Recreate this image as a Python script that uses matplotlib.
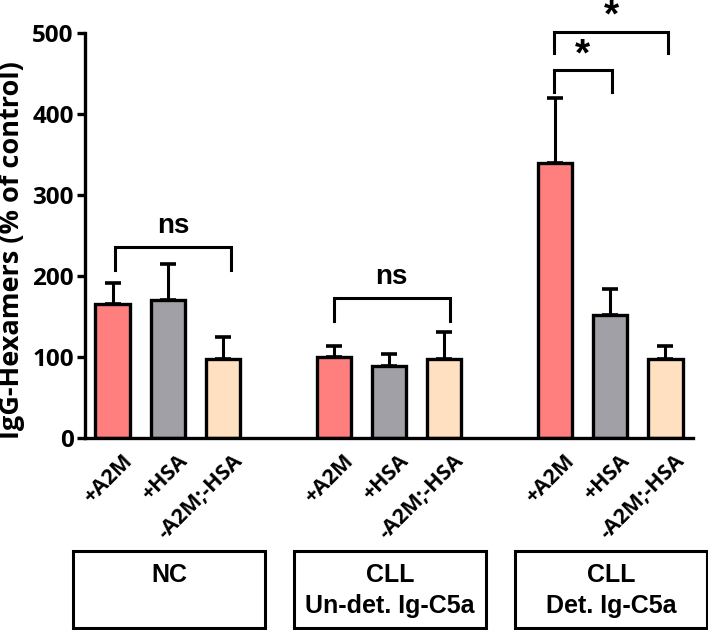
import matplotlib
matplotlib.use("Agg")
import matplotlib.pyplot as plt
from matplotlib.patches import Rectangle
import matplotlib.transforms as mtransforms

# data
positions = [0, 1, 2, 4, 5, 6, 8, 9, 10]
labels = ["+A2M", "+HSA", "-A2M;-HSA"] * 3
means = [165, 170, 98, 100, 89, 98, 340, 152, 98]
errs = [26, 45, 27, 13, 15, 33, 80, 32, 16]
colours = ["#FF7F7F", "#A0A0A6", "#FFE0C0"] * 3

group_line1 = ["NC", "CLL", "CLL"]
group_line2 = ["", "Un-det. Ig-C5a", "Det. Ig-C5a"]
group_centres = [1, 5, 9]

# brackets: (x left, x right, y top, y leg end, text, text y)
brackets = [
    (0.05, 2.15, 236, 207, "ns", 262),
    (4.0, 6.1, 173, 144, "ns", 199),
    (7.98, 9.03, 454, 427, "*", 472),
    (7.98, 10.05, 501, 475, "*", 520),
]

plt.rcParams['font.family'] = ['Open Sans', 'DejaVu Sans']
plt.rcParams['font.weight'] = 'bold'

fig = plt.figure(figsize=(7.08, 6.30), dpi=100)
ax = fig.add_axes([0.12, 0.3048, 0.859, 0.6428])

ax.bar(positions, means, width=0.62, color=colours, edgecolor="black",
       linewidth=2.4, zorder=2)
ax.errorbar(positions, means, yerr=[[0] * len(errs), errs], fmt="none",
            ecolor="black", elinewidth=2.2, capsize=6, capthick=2.6, zorder=1)

for x1, x2, yt, yl, txt, ty in brackets:
    ax.plot([x1, x1, x2, x2], [yl, yt, yt, yl], color="black", lw=2.2,
            clip_on=False, solid_joinstyle="miter")
    if txt == "*":
        ax.text((x1 + x2) / 2, ty, "*", ha="center", va="center",
                fontsize=28, fontweight="bold", family="Liberation Sans")
    else:
        ax.text((x1 + x2) / 2, ty, txt, ha="center", va="center",
                fontsize=20, fontweight="bold", family="Liberation Sans")

ax.set_xlim(-0.5, 10.5)
ax.set_ylim(0, 500)
ax.set_yticks([0, 100, 200, 300, 400, 500])
ax.tick_params(axis="y", labelsize=17.5, width=2.4, length=6, pad=2)
ax.tick_params(axis="x", length=0, pad=9)
ax.set_xticks(positions)
ax.set_xticklabels(labels, rotation=45, ha="right", rotation_mode="anchor",
                   fontsize=15.5, fontweight="bold", family="Open Sans")
offset = mtransforms.ScaledTranslation(0.09, 0, fig.dpi_scale_trans)
for lab in ax.get_xticklabels():
    lab.set_transform(lab.get_transform() + offset)
for lab in ax.get_yticklabels():
    lab.set_fontweight("bold")

ax.set_ylabel("IgG-Hexamers (% of control)", fontsize=19.5, fontweight="bold",
              family="Open Sans")
ax.yaxis.set_label_coords(-0.098, 0.464)

for s in ["top", "right"]:
    ax.spines[s].set_visible(False)
for s in ["left", "bottom"]:
    ax.spines[s].set_linewidth(2.4)

# group boxes below the axis
trans = mtransforms.blended_transform_factory(ax.transData, ax.transAxes)
for c, l1, l2 in zip(group_centres, group_line1, group_line2):
    ax.add_patch(Rectangle((c - 1.72, -0.469), 3.47, 0.19, transform=trans,
                           fill=False, edgecolor="black", lw=2.2, clip_on=False))
    ax.text(c + 0.02, -0.3556, l1, transform=trans, ha="center", va="baseline",
            fontsize=18, fontweight="bold", family="Liberation Sans")
    ax.text(c + 0.02, -0.432, l2, transform=trans, ha="center", va="baseline",
            fontsize=18, fontweight="bold", family="Liberation Sans")

fig.savefig("out.png", dpi=100)
